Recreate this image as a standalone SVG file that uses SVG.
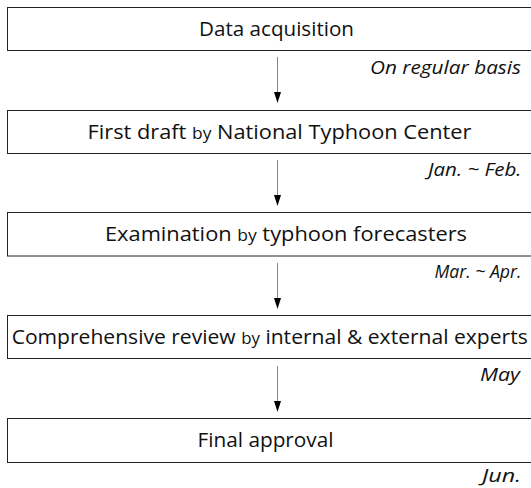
<svg xmlns="http://www.w3.org/2000/svg" width="531" height="488" viewBox="0 0 531 488">
<style>
.box{fill:#fff;stroke:#222;stroke-width:1}
.t{font-family:"Open Sans","Noto Sans",sans-serif;font-size:20px;fill:#111}
.s{font-size:16px}
.lab{font-family:"Open Sans","Noto Sans",sans-serif;font-size:19px;font-style:italic;fill:#111}
.ln{stroke:#8a8a8a;stroke-width:1;fill:none}
.hd{fill:#000}
</style>
<rect width="531" height="488" fill="#fff"/>
<g id="connectors">
<line class="ln" x1="277.5" y1="57" x2="277.5" y2="92"/>
<path class="hd" d="M274,92 L281,92 L277.5,103 Z"/>
<line class="ln" x1="277.5" y1="160" x2="277.5" y2="195"/>
<path class="hd" d="M274,195 L281,195 L277.5,206 Z"/>
<line class="ln" x1="277.5" y1="263" x2="277.5" y2="298"/>
<path class="hd" d="M274,298 L281,298 L277.5,309 Z"/>
<line class="ln" x1="277.5" y1="366" x2="277.5" y2="401"/>
<path class="hd" d="M274,401 L281,401 L277.5,412 Z"/>
</g>
<g id="n1">
<rect class="box" x="7.5" y="7.5" width="530" height="43"/>
<text class="t" x="199" y="35.5" textLength="155" lengthAdjust="spacingAndGlyphs">Data acquisition</text>
<text class="lab" x="370" y="73.5" textLength="151" lengthAdjust="spacingAndGlyphs">On regular basis</text>
</g>
<g id="n2">
<rect class="box" x="7.5" y="110.5" width="530" height="43"/>
<text class="t" x="87.5" y="138.5" textLength="384" lengthAdjust="spacingAndGlyphs">First draft <tspan class="s">by</tspan> National Typhoon Center</text>
<text class="lab" x="428" y="175.5" textLength="93.5" lengthAdjust="spacingAndGlyphs">Jan. ~ Feb.</text>
</g>
<g id="n3">
<rect class="box" x="7.5" y="212.5" width="530" height="43.5"/>
<text class="t" x="105" y="241" textLength="362" lengthAdjust="spacingAndGlyphs">Examination <tspan class="s">by</tspan> typhoon forecasters</text>
<text class="lab" x="434.5" y="278" textLength="87" lengthAdjust="spacingAndGlyphs">Mar. ~ Apr.</text>
</g>
<g id="n4">
<rect class="box" x="7.5" y="315.5" width="530" height="43"/>
<text class="t" x="11.7" y="343.5" textLength="516" lengthAdjust="spacingAndGlyphs">Comprehensive review <tspan class="s">by</tspan> internal &amp; external experts</text>
<text class="lab" x="480" y="381" textLength="40" lengthAdjust="spacingAndGlyphs">May</text>
</g>
<g id="n5">
<rect class="box" x="7.5" y="418.5" width="530" height="44"/>
<text class="t" x="197.5" y="447" textLength="136" lengthAdjust="spacingAndGlyphs">Final approval</text>
<text class="lab" x="482" y="482" textLength="39" lengthAdjust="spacingAndGlyphs">Jun.</text>
</g>
</svg>
